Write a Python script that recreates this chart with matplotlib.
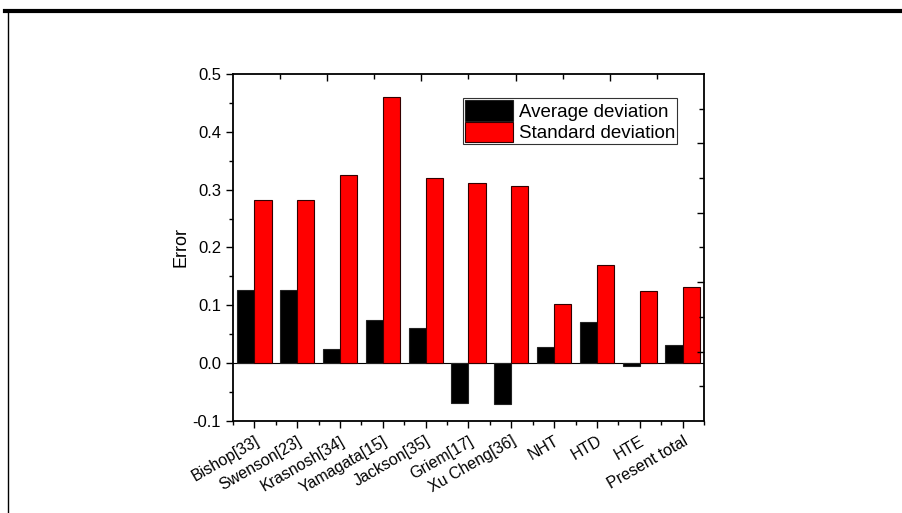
import matplotlib
matplotlib.use("Agg")
import matplotlib.pyplot as plt
from matplotlib.lines import Line2D
import numpy as np

plt.rcParams['font.family'] = ['Liberation Sans', 'DejaVu Sans']

categories = ["Bishop[33]", "Swenson[23]", "Krasnosh[34]", "Yamagata[15]", "Jackson[35]",
              "Griem[17]", "Xu Cheng[36]", "NHT", "HTD", "HTE", "Present total"]
average_dev = [0.127, 0.127, 0.025, 0.074, 0.060, -0.068, -0.070, 0.028, 0.071, -0.005, 0.031]
standard_dev = [0.282, 0.282, 0.326, 0.460, 0.320, 0.312, 0.306, 0.103, 0.169, 0.125, 0.132]
yticks = [-0.1, 0.0, 0.1, 0.2, 0.3, 0.4, 0.5]

fig = plt.figure(figsize=(9.03, 5.13), dpi=100)
ax = fig.add_axes([0.258, 0.1793, 0.5216, 0.6765])

x = np.arange(len(categories))
w = 0.4
ax.bar(x - w/2, average_dev, w, color='black', edgecolor='#222222', linewidth=0.8,
       label='Average deviation', zorder=2)
ax.bar(x + w/2, standard_dev, w, color='#FF0000', edgecolor='#330000', linewidth=0.8,
       label='Standard deviation', zorder=2)
ax.axhline(0, color='black', linewidth=0.8, zorder=1)

ax.set_xlim(-0.5, len(categories) - 0.5)
ax.set_ylim(-0.1, 0.5)
ax.set_yticks(yticks)
ax.set_yticklabels([f"{v:.1f}" for v in yticks])
ax.set_yticks(np.arange(-0.05, 0.5, 0.1), minor=True)
ax.set_xticks(x)
ax.set_xticklabels(categories, rotation=30, ha='right', rotation_mode='anchor')
ax.set_xticks(np.arange(-0.5, len(categories), 1.0), minor=True)
ax.tick_params(axis='both', which='major', direction='out', length=5, width=1.0,
               labelsize=12, colors='black')
ax.tick_params(axis='x', which='major', labelsize=11.5, pad=4)
ax.tick_params(axis='both', which='minor', direction='out', length=3, width=1.0)
ax.set_ylabel('Error', fontsize=13, labelpad=2)
for s in ax.spines.values():
    s.set_linewidth(1.3)
ax.spines['top'].set_visible(False)
ax.spines['right'].set_visible(False)

leg = ax.legend(loc='upper left', bbox_to_anchor=(0.488, 0.93), fontsize=13.5,
                frameon=True, fancybox=False, edgecolor='black', handlelength=2.6,
                handleheight=1.3, handletextpad=0.3, borderpad=0.1, labelspacing=0.05,
                borderaxespad=0)
leg.get_frame().set_linewidth(0.8)

# top and right axes with their own ticks
ax2 = fig.add_axes(ax.get_position(), frameon=True)
ax2.patch.set_visible(False)
ax2.set_xlim(0, 1)
ax2.set_ylim(0, 1)
ax2.spines['left'].set_visible(False)
ax2.spines['bottom'].set_visible(False)
for s in ['top', 'right']:
    ax2.spines[s].set_linewidth(1.3)
ax2.xaxis.tick_top()
ax2.yaxis.tick_right()
ax2.set_xticks([0.2, 0.4, 0.6, 0.8])
ax2.set_xticks([0.1, 0.3, 0.5, 0.7, 0.9], minor=True)
ax2.set_yticks([0.2, 0.4, 0.6, 0.8])
ax2.set_yticks([0.1, 0.3, 0.5, 0.7, 0.9], minor=True)
ax2.tick_params(which='major', direction='in', length=5, width=1.0,
                labeltop=False, labelright=False)
ax2.tick_params(which='minor', direction='in', length=3.5, width=1.0)

# outer frame
fig.add_artist(Line2D([0.006, 1.0], [1 - 11/513, 1 - 11/513], transform=fig.transFigure,
                      color='black', linewidth=3))
fig.add_artist(Line2D([0.0085, 0.0085], [0, 1 - 11/513], transform=fig.transFigure,
                      color='black', linewidth=1))

fig.savefig('out.png', dpi=100)
